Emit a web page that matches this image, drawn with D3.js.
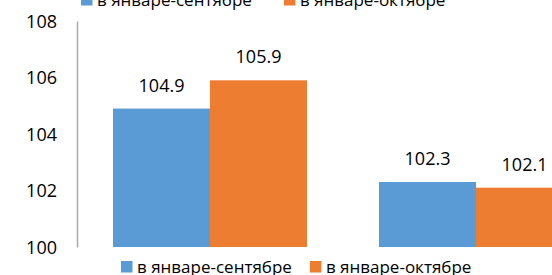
<!DOCTYPE html>
<html>
<head>
<meta charset="utf-8">
<script src="https://cdn.jsdelivr.net/npm/d3@7"></script>
<style>
  html, body { margin: 0; padding: 0; background: #fff; overflow: hidden; }
  text { font-family: "Open Sans", sans-serif; fill: #000; }
</style>
</head>
<body>
<svg id="chart"></svg>
<script>
//------------------------------------------------------------
// Data
const categories = ["group1", "group2"];
const seriesNames = ["в январе-сентябре", "в январе-октябре"];
const seriesSep = [104.9, 102.3];
const seriesOct = [105.9, 102.1];
const yTicks = [100, 102, 104, 106, 108];
const colors = ["#5B9BD5", "#ED7D31"];

const rows = categories.map((c, i) => ({
  cat: c,
  values: [
    { key: seriesNames[0], value: seriesSep[i] },
    { key: seriesNames[1], value: seriesOct[i] }
  ]
}));

//------------------------------------------------------------
// Chart setup (plot runs past the right edge, like the cropped original)
const W = 552, H = 275;
const svg = d3.select("#chart").attr("width", W).attr("height", H);

const x0 = d3.scaleBand().domain(categories).range([77, 609]).padding(0);
const x1 = d3.scaleBand().domain(seriesNames).range([36, 230]).padding(0);
const y = d3.scaleLinear().domain([100, 108]).range([247, 21]);
const color = d3.scaleOrdinal().domain(seriesNames).range(colors);

// y axis
const yAxis = svg.append("g")
  .attr("transform", "translate(77,0)")
  .call(d3.axisLeft(y).tickValues(yTicks).tickSize(0).tickPadding(20).tickFormat(d3.format("d")));
yAxis.select(".domain").attr("stroke", "#ABABAB").attr("stroke-width", 1.5);
yAxis.selectAll("text")
  .style("font-size", "18px")
  .attr("dy", "0.36em");

//------------------------------------------------------------
// Bars
const groups = svg.selectAll("g.grp")
  .data(rows)
  .join("g")
  .attr("class", "grp")
  .attr("transform", d => `translate(${x0(d.cat)},0)`);

groups.selectAll("rect")
  .data(d => d.values)
  .join("rect")
  .attr("x", d => x1(d.key))
  .attr("y", d => y(d.value))
  .attr("width", x1.bandwidth())
  .attr("height", d => y(100) - y(d.value))
  .attr("fill", d => color(d.key));

groups.selectAll("text.lbl")
  .data(d => d.values)
  .join("text")
  .attr("class", "lbl")
  .attr("x", d => x1(d.key) + x1.bandwidth() / 2)
  .attr("y", d => y(d.value) - 17)
  .attr("text-anchor", "middle")
  .style("font-size", "18px")
  .text(d => d3.format(".1f")(d.value));

//------------------------------------------------------------
// Legends (one cut off at the top, one at the bottom)
function legend(xStart, baseline, gap) {
  const g = svg.append("g");
  let cx = xStart;
  seriesNames.forEach(name => {
    g.append("rect")
      .attr("x", cx)
      .attr("y", baseline - 11.5)
      .attr("width", 11.5)
      .attr("height", 11.5)
      .attr("fill", color(name));
    const t = g.append("text")
      .attr("x", cx + 16)
      .attr("y", baseline)
      .style("font-size", "17px")
      .text(name);
    cx = cx + 16 + t.node().getComputedTextLength() + gap;
  });
}

legend(81, 5.5, 32);
legend(121, 272.5, 18);
</script>
</body>
</html>
